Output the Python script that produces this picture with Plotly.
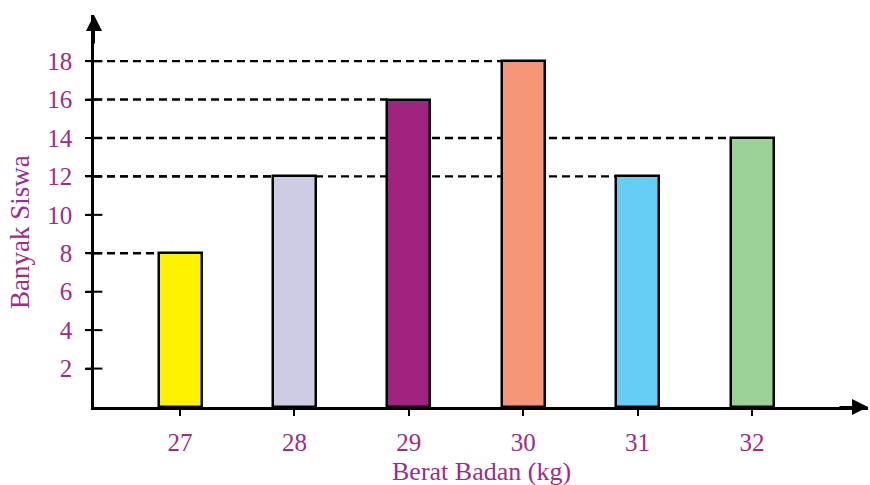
import plotly.graph_objects as go

# Data
weights = [27, 28, 29, 30, 31, 32]
students = [8, 12, 16, 18, 12, 14]
bar_colors = ["#fff200", "#cecbe5", "#a02380", "#f59677", "#66cdf5", "#9bd096"]
y_ticks = [2, 4, 6, 8, 10, 12, 14, 16, 18]
x_title = "Berat Badan (kg)"
y_title = "Banyak Siswa"

TEXT = "#a02c86"
FONT = "'Liberation Serif', 'Times New Roman', serif"

x_min, x_max = 26.248, 33.014
y_min, y_max = 0, 20.4
bar_w = 0.376

fig = go.Figure()

# dashed reference lines from axis to bar left edge
for x, y in zip(weights, students):
    fig.add_shape(type="line", x0=x_min, x1=x - bar_w / 2, y0=y, y1=y,
                  xref="x", yref="y", layer="below",
                  line=dict(color="black", width=2.4, dash="8px,5px"))

fig.add_trace(go.Bar(
    x=weights, y=students, width=bar_w,
    marker=dict(color=bar_colors, line=dict(color="black", width=2.5)),
    hoverinfo="x+y", showlegend=False,
))

# inside part of y ticks (ticks cross the axis)
fig.add_trace(go.Scatter(
    x=[x_min] * len(y_ticks), y=y_ticks, mode="markers",
    marker=dict(symbol="line-ew", size=12, line=dict(color="black", width=2)),
    cliponaxis=False, hoverinfo="skip", showlegend=False,
))

# arrowheads
fig.add_annotation(x=x_min, y=y_max, ax=0, ay=30, xref="x", yref="y",
                   showarrow=True, arrowhead=2, arrowsize=1.6,
                   arrowwidth=2, arrowcolor="black", text="", standoff=0)
fig.add_annotation(x=x_max, y=0, ax=-30, ay=0, xref="x", yref="y",
                   showarrow=True, arrowhead=2, arrowsize=1.6,
                   arrowwidth=2, arrowcolor="black", text="", standoff=0)

# axis titles
fig.add_annotation(x=(481 - 94) / 774, y=(407 - 471) / 392, xref="paper", yref="paper",
                   text=x_title, showarrow=False, xanchor="center", yanchor="middle",
                   font=dict(family=FONT, color=TEXT, size=26))
fig.add_annotation(x=(20 - 94) / 774, y=(407 - 232) / 392, xref="paper", yref="paper",
                   text=y_title, showarrow=False, textangle=-90,
                   xanchor="center", yanchor="middle",
                   font=dict(family=FONT, color=TEXT, size=27))

fig.update_layout(
    width=870, height=485,
    margin=dict(l=94, r=2, t=15, b=78, autoexpand=False),
    paper_bgcolor="white", plot_bgcolor="white",
    font=dict(family=FONT, color=TEXT, size=25),
    bargap=0,
    xaxis=dict(
        range=[x_min, x_max], tickmode="array", tickvals=weights,
        ticktext=[str(w) for w in weights],
        showline=True, linecolor="black", linewidth=2.5,
        ticks="outside", ticklen=6, tickwidth=2, tickcolor="black",
        ticklabelstandoff=5, automargin=False,
        showgrid=False, zeroline=False,
        tickfont=dict(family=FONT, color=TEXT, size=25),
    ),
    yaxis=dict(
        range=[y_min, y_max], tickmode="array", tickvals=y_ticks,
        showline=True, linecolor="black", linewidth=2.5,
        ticks="outside", ticklen=6, tickwidth=2, tickcolor="black",
        ticklabelstandoff=8, automargin=False,
        showgrid=False, zeroline=False,
        tickfont=dict(family=FONT, color=TEXT, size=25),
    ),
)

fig.write_html(
    "out.html",
    config={"displayModeBar": False},
    post_script="document.body.style.margin='0';document.body.style.overflow='hidden';",
)
